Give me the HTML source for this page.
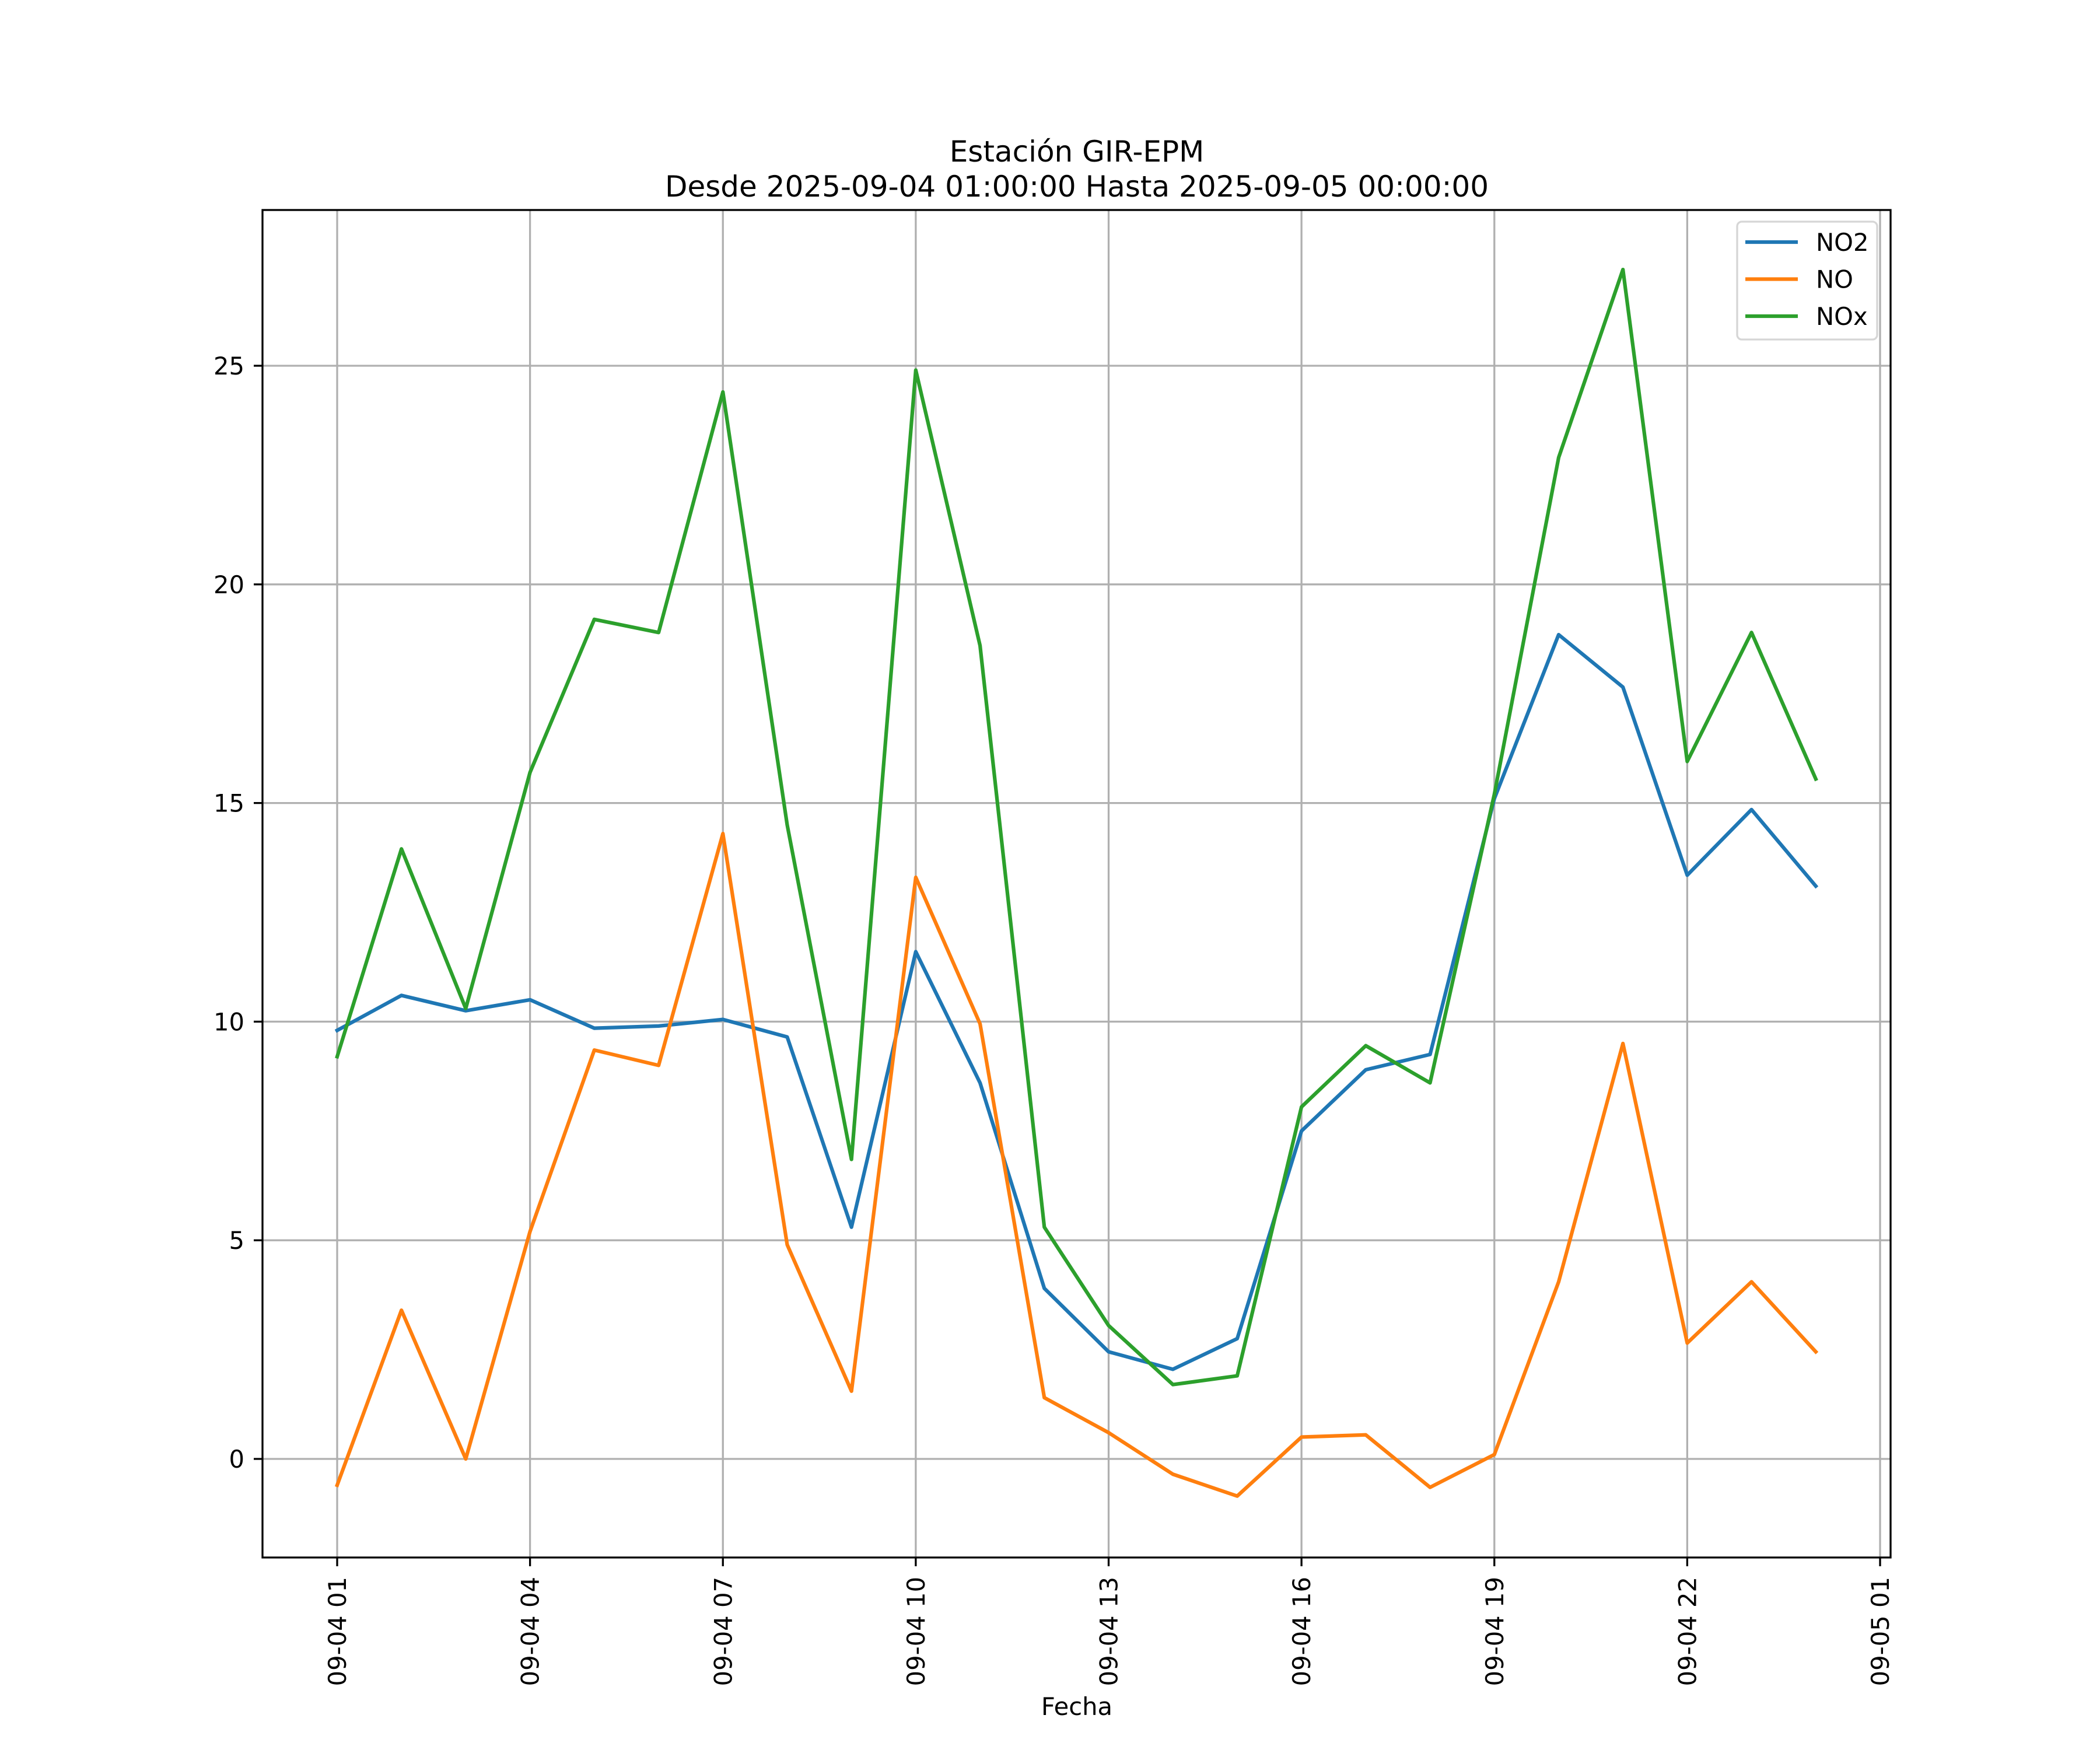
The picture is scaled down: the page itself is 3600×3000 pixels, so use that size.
<!DOCTYPE html>
<html><head><meta charset="utf-8"><style>
html,body{margin:0;padding:0;background:#fff;}
svg{display:block;font-family:"DejaVu Sans","Liberation Sans",sans-serif;}
</style></head><body>
<svg id="chart" width="3600" height="3000" xmlns="http://www.w3.org/2000/svg">
<rect width="3600" height="3000" fill="#fff"/>
<g id="grid"></g>
<g id="series"></g>
<rect x="450" y="360" width="2791" height="2310" fill="none" stroke="#000" stroke-width="3.3"/>
<g id="xticks"></g>
<g id="yticks"></g>
<text x="1846" y="277" text-anchor="middle" font-size="50">Estación GIR-EPM</text>
<text x="1846" y="337" text-anchor="middle" font-size="50">Desde 2025-09-04 01:00:00 Hasta 2025-09-05 00:00:00</text>
<text x="1846" y="2940" text-anchor="middle" font-size="41.7">Fecha</text>
<g id="legend">
<rect x="2978" y="380" width="240" height="202" rx="8" fill="#fff" fill-opacity="0.8" stroke="#d6d6d6" stroke-width="3.3"/>
</g>
</svg>
<script>
const hours = [0,1,2,3,4,5,6,7,8,9,10,11,12,13,14,15,16,17,18,19,20,21,22,23];
const no2 = [9.8,10.6,10.25,10.5,9.85,9.9,10.05,9.65,5.3,11.6,8.6,3.9,2.45,2.05,2.75,7.5,8.9,9.25,15.1,18.85,17.65,13.35,14.85,13.1];
const no = [-0.6,3.4,0.0,5.2,9.35,9.0,14.3,4.9,1.55,13.3,9.95,1.4,0.6,-0.35,-0.85,0.5,0.55,-0.65,0.1,4.05,9.5,2.65,4.05,2.45];
const nox = [9.2,13.95,10.3,15.7,19.2,18.9,24.4,14.5,6.85,24.9,18.6,5.3,3.05,1.7,1.9,8.05,9.45,8.6,15.2,22.9,27.2,15.95,18.9,15.55];
const xTickHours = [0,3,6,9,12,15,18,21,24];
const xTickLabels = ["09-04 01","09-04 04","09-04 07","09-04 10","09-04 13","09-04 16","09-04 19","09-04 22","09-05 01"];
const yTicks = [0,5,10,15,20,25];
const seriesNames = ["NO2","NO","NOx"];

const NS="http://www.w3.org/2000/svg";
function xs(h){return 578+h*(3223-578)/24;}
function ys(v){return 2501-v*(2501-627)/25;}
function mk(tag,attrs,parent){const e=document.createElementNS(NS,tag);for(const k in attrs)e.setAttribute(k,attrs[k]);parent.appendChild(e);return e;}
const grid=document.getElementById('grid'),xt=document.getElementById('xticks'),yt=document.getElementById('yticks'),sg=document.getElementById('series'),lg=document.getElementById('legend');
xTickHours.forEach((h,i)=>{
  const x=xs(h);
  const g=mk('line',{x1:x,x2:x,y1:360,y2:2670,stroke:'#b0b0b0','stroke-width':3.3},grid);
  
  
  const t=mk('line',{x1:x,x2:x,y1:2670,y2:2685,stroke:'#000','stroke-width':3.3},xt);
  
  
  const l=mk('text',{x:0,y:0,'font-size':41.7,'text-anchor':'end',transform:`translate(${x+15},2703) rotate(-90)`},xt);
  l.textContent=xTickLabels[i];
  
  
});
yTicks.forEach(v=>{
  const y=ys(v);
  const g=mk('line',{x1:450,x2:3241,y1:y,y2:y,stroke:'#b0b0b0','stroke-width':3.3},grid);
  
  
  const t=mk('line',{x1:435,x2:450,y1:y,y2:y,stroke:'#000','stroke-width':3.3},yt);
  
  
  const l=mk('text',{x:419,y:y+15,'font-size':41.7,'text-anchor':'end'},yt);
  l.textContent=String(v);
  
  
});
const colors=['#1f77b4','#ff7f0e','#2ca02c'];
[no2,no,nox].forEach((arr,i)=>{
  const p=mk('polyline',{points:arr.map((v,j)=>xs(hours[j])+','+ys(v)).join(' '),fill:'none',stroke:colors[i],'stroke-width':6.25,'stroke-linejoin':'round','stroke-linecap':'square'},sg);
  
  
  const ly=415+i*63.5;
  const ll=mk('line',{x1:2992,x2:3082,y1:ly,y2:ly,stroke:colors[i],'stroke-width':6.25},lg);
  
  
  const lt=mk('text',{x:3113,y:ly+15,'font-size':41.7},lg);
  lt.textContent=seriesNames[i];
  
  
});
</script>
</body></html>
